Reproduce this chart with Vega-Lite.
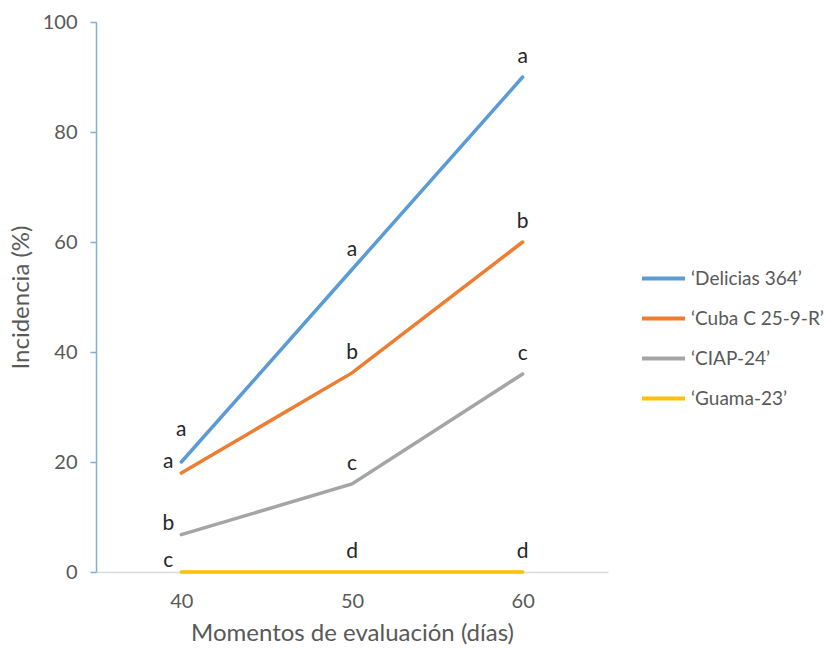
{
  "$schema": "https://vega.github.io/schema/vega-lite/v6.json",
  "width": 512,
  "height": 550,
  "autosize": {"type": "none"},
  "padding": {"left": 96, "top": 22, "right": 217, "bottom": 76},
  "background": "white",
  "config": {
    "view": {"stroke": null},
    "font": "Lato",
    "axis": {"labelFont": "Lato", "titleFont": "Lato", "labelColor": "#595959", "titleColor": "#595959", "labelFontSize": 20, "titleFontSize": 24, "titleFontWeight": "normal", "grid": false},
    "legend": {"labelFont": "Lato", "labelColor": "#595959", "labelFontSize": 19}
  },
  "data": {
    "values": [
      {"dias": "40", "cultivar": "‘Delicias 364’", "incidencia": 20, "letra": "a"},
      {"dias": "50", "cultivar": "‘Delicias 364’", "incidencia": 55, "letra": "a"},
      {"dias": "60", "cultivar": "‘Delicias 364’", "incidencia": 90, "letra": "a"},
      {"dias": "40", "cultivar": "‘Cuba C 25-9-R’", "incidencia": 18, "letra": "a"},
      {"dias": "50", "cultivar": "‘Cuba C 25-9-R’", "incidencia": 36.2, "letra": "b"},
      {"dias": "60", "cultivar": "‘Cuba C 25-9-R’", "incidencia": 60, "letra": "b"},
      {"dias": "40", "cultivar": "‘CIAP-24’", "incidencia": 6.8, "letra": "b"},
      {"dias": "50", "cultivar": "‘CIAP-24’", "incidencia": 16, "letra": "c"},
      {"dias": "60", "cultivar": "‘CIAP-24’", "incidencia": 36, "letra": "c"},
      {"dias": "40", "cultivar": "‘Guama-23’", "incidencia": 0, "letra": "c"},
      {"dias": "50", "cultivar": "‘Guama-23’", "incidencia": 0, "letra": "d"},
      {"dias": "60", "cultivar": "‘Guama-23’", "incidencia": 0, "letra": "d"}
    ]
  },
  "encoding": {
    "x": {
      "field": "dias", "type": "ordinal",
      "scale": {"type": "point", "padding": 0.5},
      "axis": {"title": "Momentos de evaluación (días)", "labelAngle": 0, "ticks": false, "domainColor": "#D9D9D9", "domainWidth": 1.5, "labelPadding": 19, "titlePadding": 10}
    },
    "y": {
      "field": "incidencia", "type": "quantitative",
      "scale": {"domain": [0, 100]},
      "axis": {"title": "Incidencia (%)", "values": [0, 20, 40, 60, 80, 100], "domainColor": "#7EAEE0", "domainWidth": 1.5, "tickColor": "#7EAEE0", "tickSize": 6, "tickWidth": 1.5, "labelPadding": 13, "titlePadding": 9}
    }
  },
  "layer": [
    {
      "mark": {"type": "line", "strokeWidth": 3.5, "strokeCap": "round"},
      "encoding": {
        "color": {
          "field": "cultivar", "type": "nominal",
          "scale": {"domain": ["‘Delicias 364’", "‘Cuba C 25-9-R’", "‘CIAP-24’", "‘Guama-23’"], "range": ["#5B9BD5", "#ED7D31", "#A5A5A5", "#FFC000"]},
          "legend": {"title": null, "orient": "none", "legendX": 544, "legendY": 233, "symbolType": "stroke", "symbolSize": 1849, "symbolStrokeWidth": 4, "rowPadding": 6, "labelOffset": 4}
        }
      }
    },
    {
      "transform": [{"filter": "!(datum.dias == '40')"}],
      "mark": {"type": "text", "dy": -20, "fontSize": 21, "color": "#262626"},
      "encoding": {"text": {"field": "letra"}}
    },
    {
      "transform": [{"filter": "datum.dias == '40' && datum.cultivar != '‘Delicias 364’'"}],
      "mark": {"type": "text", "dx": -13, "dy": -11, "fontSize": 21, "color": "#262626"},
      "encoding": {"text": {"field": "letra"}}
    },
    {
      "transform": [{"filter": "datum.dias == '40' && datum.cultivar == '‘Delicias 364’'"}],
      "mark": {"type": "text", "dy": -32, "fontSize": 21, "color": "#262626"},
      "encoding": {"text": {"field": "letra"}}
    }
  ]
}
